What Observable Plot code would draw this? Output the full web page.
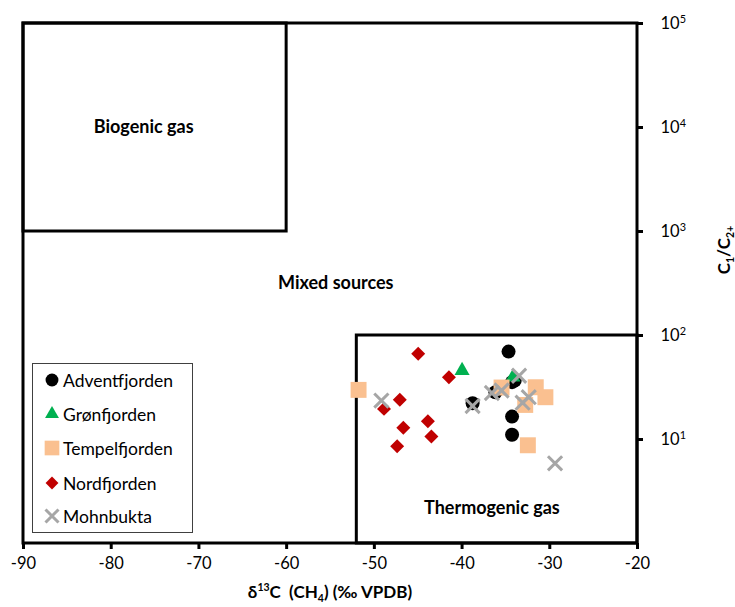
<!DOCTYPE html>
<html>
<head>
<meta charset="utf-8">
<script src="https://cdn.jsdelivr.net/npm/d3@7"></script>
<script src="https://cdn.jsdelivr.net/npm/@observablehq/plot@0.6"></script>
<style>
  body { margin: 0; background: #fff; }
  #wrap { position: relative; width: 735px; height: 607px; font-family: Lato, "Open Sans", sans-serif; color: #000; }
  #wrap > svg { position: absolute; left: 0; top: 0; }
  #legend { position: absolute; left: 32px; top: 363px; width: 161px; height: 170px; box-sizing: border-box;
            border: 1.5px solid #404040; background: #fff; }
  #legend .li { position: absolute; left: 0; height: 20px; display: flex; align-items: center; font-size: 17.5px; white-space: nowrap; }
  #legend .li svg { position: static; margin-left: 11px; margin-right: 3px; flex: none; }
  .xt { position: absolute; left: 23px; width: 614px; top: 584px; line-height: 16px; text-align: center; font-weight: bold; font-size: 17px; }
  .yt { position: absolute; left: 724px; top: 250px; line-height: 16px; transform: translate(-50%, -50%) rotate(-90deg); font-weight: bold; font-size: 17px; white-space: nowrap; }
  sub, sup { font-size: 0.62em; line-height: 0; }
</style>
</head>
<body>
<div id="wrap"></div>
<script>
// ---- data ----
const series = ["Adventfjorden", "Grønfjorden", "Tempelfjorden", "Nordfjorden", "Mohnbukta"];

const adventD13C = [-34.7, -34.0, -36.2, -38.8, -34.3, -34.3, -34.3];
const adventRatio = [70, 36.9, 28.5, 22.3, 35.6, 16.6, 11.1];

const gronD13C = [-40.0, -34.2];
const gronRatio = [46, 39.7];

const tempelD13C = [-51.8, -35.5, -31.6, -30.5, -32.8, -32.5];
const tempelRatio = [30, 31.6, 31.8, 25.5, 21.5, 8.8];

const nordD13C = [-45.0, -41.5, -47.1, -48.9, -43.9, -46.7, -43.5, -47.4];
const nordRatio = [66.7, 39.7, 24.1, 19.7, 15.0, 13.0, 10.7, 8.6];

const mohnD13C = [-49.2, -38.8, -36.6, -35.5, -33.5, -33.1, -32.4, -29.4];
const mohnRatio = [23.7, 21.0, 28.0, 29.6, 41.0, 22.6, 25.5, 5.9];

const xTicks = [-90, -80, -70, -60, -50, -40, -30, -20];
const yTicks = [1e1, 1e2, 1e3, 1e4, 1e5];

// gas-origin fields
const fieldNames = ["Frame", "Biogenic gas", "Thermogenic gas"];
const fieldX1 = [-90, -90, -52];
const fieldX2 = [-20, -60, -20];
const fieldY1 = [1, 1e3, 1];
const fieldY2 = [1e5, 1e5, 1e2];

const regionLabels = ["Biogenic gas", "Mixed sources", "Thermogenic gas"];
const regionX = [-76.3, -54.4, -36.6];
const regionY = [1e4, 316, 2.17];

// ---- build ----
const pts = (xs, ys) => xs.map((x, i) => ({x, y: ys[i]}));
const fields = fieldNames.map((n, i) => ({n, x1: fieldX1[i], x2: fieldX2[i], y1: fieldY1[i], y2: fieldY2[i]}));
const regions = regionLabels.map((t, i) => ({t, x: regionX[i], y: regionY[i]}));

const styles = [
  {symbol: "circle", fill: "#000000", r: 7},
  {symbol: "triangle", fill: "#00b050", r: 5.6},
  {symbol: "square", fill: "#fac090", r: 9},
  {symbol: "diamond2", fill: "#c00000", r: 6.3},
  {symbol: "times", stroke: "#a6a6a6", r: 6.5, strokeWidth: 3}
];
const data = [pts(adventD13C, adventRatio), pts(gronD13C, gronRatio), pts(tempelD13C, tempelRatio),
              pts(nordD13C, nordRatio), pts(mohnD13C, mohnRatio)];

const chart = Plot.plot({
  width: 735,
  height: 607,
  marginTop: 23,
  marginBottom: 64,
  marginLeft: 23,
  marginRight: 98,
  style: {fontFamily: "Lato, 'Open Sans', sans-serif", fontSize: "16.5px", color: "#000", background: "transparent", overflow: "visible"},
  x: {domain: [-90, -20]},
  y: {type: "log", domain: [1, 1e5]},
  marks: [
    Plot.rect(fields, {x1: "x1", x2: "x2", y1: "y1", y2: "y2", fill: "none", stroke: "#000", strokeWidth: 3}),
    Plot.axisX({ticks: xTicks, tickSize: 6, tickPadding: 8, strokeWidth: 3, label: null, fontSize: 16.5, tickFormat: d => String(d)}),
    Plot.axisY({anchor: "right", ticks: yTicks, tickSize: 5, tickPadding: 18, strokeWidth: 3, label: null, fontSize: 16.5,
                tickFormat: d => "10^" + Math.round(Math.log10(d))}),
    ...data.map((d, i) => Plot.dot(d, {x: "x", y: "y", ...styles[i]})),
    Plot.text(regions, {x: "x", y: "y", text: "t", fontWeight: "bold", fontSize: 18})
  ]
});

// superscript exponents on the y tick labels
d3.select(chart).selectAll('[aria-label="y-axis tick label"] text').each(function () {
  const [b, e] = this.textContent.split("^");
  this.textContent = b;
  d3.select(this).append("tspan").attr("dy", "-0.5em").attr("font-size", "0.66em").text(e);
});

const wrap = document.getElementById("wrap");
wrap.appendChild(chart);

// axis titles
const xt = document.createElement("div");
xt.className = "xt";
xt.innerHTML = "δ<sup>13</sup>C&nbsp; (CH<sub>4</sub>) (‰ VPDB)";
wrap.appendChild(xt);
const yt = document.createElement("div");
yt.className = "yt";
yt.innerHTML = "C<sub>1</sub>/C<sub>2+</sub>";
wrap.appendChild(yt);

// legend
const legend = document.createElement("div");
legend.id = "legend";
const rowTops = [6, 40, 74, 109, 142];
series.forEach((name, i) => {
  const row = document.createElement("div");
  row.className = "li";
  row.style.top = rowTops[i] + "px";
  const s = styles[i];
  const sym = d3.create("svg").attr("width", 16).attr("height", 16);
  const size = Math.PI * (s.r * 0.92) ** 2;
  const symType = {circle: d3.symbolCircle, triangle: d3.symbolTriangle, square: d3.symbolSquare,
                   diamond2: d3.symbolDiamond2, times: d3.symbolTimes}[s.symbol];
  sym.append("path").attr("transform", "translate(8,8)")
    .attr("d", d3.symbol(symType, size)())
    .attr("fill", s.fill || "none").attr("stroke", s.stroke || "none").attr("stroke-width", s.strokeWidth || 0);
  row.appendChild(sym.node());
  const lab = document.createElement("span");
  lab.textContent = name;
  row.appendChild(lab);
  legend.appendChild(row);
});
wrap.appendChild(legend);
</script>
</body>
</html>
